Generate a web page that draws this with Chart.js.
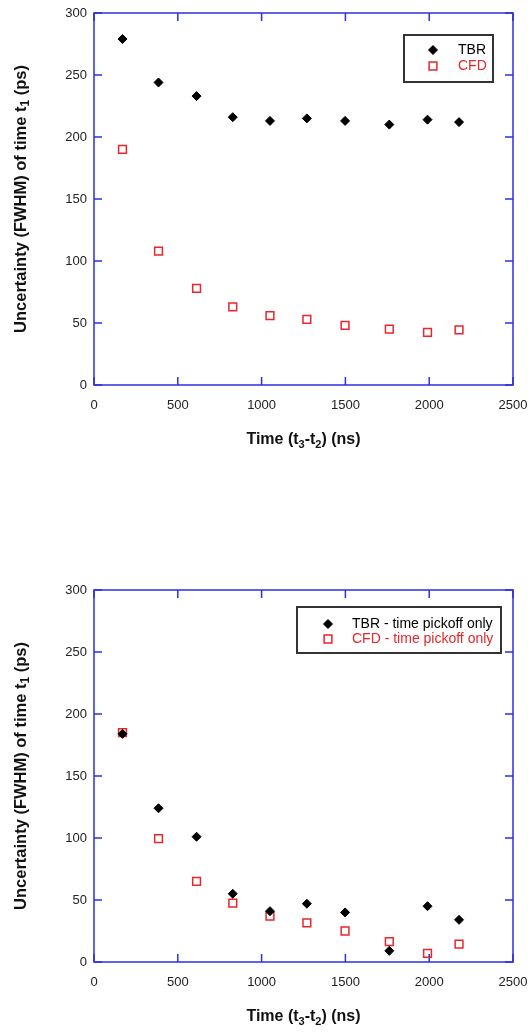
<!DOCTYPE html>
<html>
<head>
<meta charset="utf-8">
<script src="https://cdn.jsdelivr.net/npm/chart.js@4.4.1/dist/chart.umd.min.js"></script>
<style>
  html, body { margin: 0; padding: 0; background: #fff; }
  canvas { display: block; }
</style>
</head>
<body>
<canvas id="topChart" width="528" height="517"></canvas>
<canvas id="bottomChart" width="528" height="517"></canvas>
<script>
// measured delay between t3 and t2 (ns)
const timeNs = [170, 385, 612, 828, 1050, 1270, 1498, 1762, 1990, 2178];

// full timing uncertainty
const tbrFull = [279, 244, 233, 216, 213, 215, 213, 210, 214, 212];
const cfdFull = [190, 108, 78, 63, 56, 53, 48, 45, 42.5, 44.5];

// time pickoff contribution only
const tbrPickoff = [184, 124, 101, 55, 41, 47, 40, 9, 45, 34];
const cfdPickoff = [185, 99.5, 65, 47.5, 37, 31.5, 25, 16.5, 7, 14.5];

const xTicks = [0, 500, 1000, 1500, 2000, 2500];
const yTicks = [0, 50, 100, 150, 200, 250, 300];

// axis titles, second element flags subscript pieces
const xTitle = [['Time (t', 0], ['3', 1], ['-t', 0], ['2', 1], [') (ns)', 0]];
const yTitle = [['Uncertainty (FWHM) of time t', 0], ['1', 1], [' (ps)', 0]];

const FONT = '"Liberation Sans", Arial, Helvetica, sans-serif';
const AXIS_BLUE = '#2f2fe0';
const RED = '#e8262b';

function pts(ys) {
  return timeNs.map((t, i) => ({ x: t, y: ys[i] }));
}

function drawRich(ctx, parts, cx, cy, size) {
  const main = 'bold ' + size + 'px ' + FONT;
  const sub = 'bold ' + Math.round(size * 0.7) + 'px ' + FONT;
  let total = 0;
  parts.forEach(([s, isSub]) => { ctx.font = isSub ? sub : main; total += ctx.measureText(s).width; });
  let px = cx - total / 2;
  parts.forEach(([s, isSub]) => {
    ctx.font = isSub ? sub : main;
    ctx.fillText(s, px, cy + (isSub ? 5 : 0));
    px += ctx.measureText(s).width;
  });
}

// blue box around the plot with inward ticks on all four sides
const frameTicks = {
  id: 'frameTicks',
  beforeDatasetsDraw(chart) {
    const { ctx, chartArea: a, scales: { x, y } } = chart;
    const len = 8;
    ctx.save();
    ctx.strokeStyle = AXIS_BLUE;
    ctx.lineWidth = 1.5;
    ctx.strokeRect(a.left, a.top, a.right - a.left, a.bottom - a.top);
    ctx.beginPath();
    x.ticks.forEach(t => {
      const px = x.getPixelForValue(t.value);
      ctx.moveTo(px, a.bottom); ctx.lineTo(px, a.bottom - len);
      ctx.moveTo(px, a.top); ctx.lineTo(px, a.top + len);
    });
    y.ticks.forEach(t => {
      const py = y.getPixelForValue(t.value);
      ctx.moveTo(a.left, py); ctx.lineTo(a.left + len, py);
      ctx.moveTo(a.right, py); ctx.lineTo(a.right - len, py);
    });
    ctx.stroke();
    ctx.restore();
  }
};

// axis titles with subscripts
const axisTitles = {
  id: 'axisTitles',
  afterDraw(chart) {
    const { ctx, chartArea: a } = chart;
    ctx.save();
    ctx.fillStyle = '#111';
    ctx.textAlign = 'left';
    ctx.textBaseline = 'middle';
    drawRich(ctx, xTitle, (a.left + a.right) / 2, a.bottom + 55, 16);
    ctx.translate(21, (a.top + a.bottom) / 2);
    ctx.rotate(-Math.PI / 2);
    drawRich(ctx, yTitle, 0, 0, 16.5);
    ctx.restore();
  }
};

// framed legend inside the plot
const boxLegend = {
  id: 'boxLegend',
  afterDraw(chart, args, opts) {
    const { ctx } = chart;
    ctx.save();
    ctx.strokeStyle = '#333';
    ctx.lineWidth = 2;
    ctx.strokeRect(opts.left, opts.top, opts.width, opts.height);
    ctx.font = '14px ' + FONT;
    ctx.textAlign = 'left';
    ctx.textBaseline = 'middle';
    chart.data.datasets.forEach((ds, i) => {
      const rowY = opts.firstRow + i * opts.rowGap;
      ctx.fillStyle = ds.backgroundColor;
      ctx.strokeStyle = ds.borderColor;
      ctx.lineWidth = ds.borderWidth;
      Chart.helpers.drawPoint(ctx, {
        pointStyle: ds.pointStyle, radius: ds.pointRadius, rotation: 0, borderWidth: ds.borderWidth
      }, opts.markerX, rowY);
      ctx.fillStyle = ds.textColor;
      ctx.fillText(ds.label, opts.textX, rowY);
    });
    ctx.restore();
  }
};

function makeChart(id, tbr, cfd, tbrLabel, cfdLabel, padTop, legendBox) {
  const canvasH = 517;
  return new Chart(document.getElementById(id), {
    type: 'scatter',
    data: {
      datasets: [
        {
          label: tbrLabel, data: pts(tbr), textColor: '#000',
          pointStyle: 'rectRot', pointRadius: 4.5,
          backgroundColor: '#000', borderColor: '#000', borderWidth: 1
        },
        {
          label: cfdLabel, data: pts(cfd), textColor: RED,
          pointStyle: 'rect', pointRadius: 5.5,
          backgroundColor: 'rgba(0,0,0,0)', borderColor: RED, borderWidth: 1.5
        }
      ]
    },
    options: {
      responsive: false,
      animation: false,
      events: [],
      layout: { padding: { left: 0, right: 15, top: padTop, bottom: 0 } },
      plugins: {
        legend: { display: false },
        tooltip: { enabled: false },
        boxLegend: legendBox
      },
      scales: {
        x: {
          type: 'linear', min: 0, max: 2500,
          afterBuildTicks: s => { s.ticks = xTicks.map(v => ({ value: v })); },
          afterFit: s => { s.height = canvasH - padTop - 372; s.paddingLeft = 0; s.paddingRight = 0; },
          grid: { display: false, drawTicks: false },
          border: { display: false },
          ticks: {
            padding: 13, color: '#222', font: { family: FONT, size: 13 }, maxRotation: 0,
            callback: v => String(v)
          }
        },
        y: {
          type: 'linear', min: 0, max: 300,
          afterBuildTicks: s => { s.ticks = yTicks.map(v => ({ value: v })); },
          afterFit: s => { s.width = 94; s.paddingTop = 0; s.paddingBottom = 0; },
          grid: { display: false, drawTicks: false },
          border: { display: false },
          ticks: { padding: 7, color: '#222', font: { family: FONT, size: 13 }, callback: v => String(v) }
        }
      }
    },
    plugins: [frameTicks, axisTitles, boxLegend]
  });
}

makeChart('topChart', tbrFull, cfdFull, 'TBR', 'CFD', 13,
  { left: 404, top: 35, width: 89, height: 47, markerX: 433, textX: 458, firstRow: 50, rowGap: 16 });

makeChart('bottomChart', tbrPickoff, cfdPickoff,
  'TBR - time pickoff only', 'CFD - time pickoff only', 73,
  { left: 297, top: 90, width: 204, height: 46, markerX: 328, textX: 352, firstRow: 107, rowGap: 15 });
</script>
</body>
</html>
